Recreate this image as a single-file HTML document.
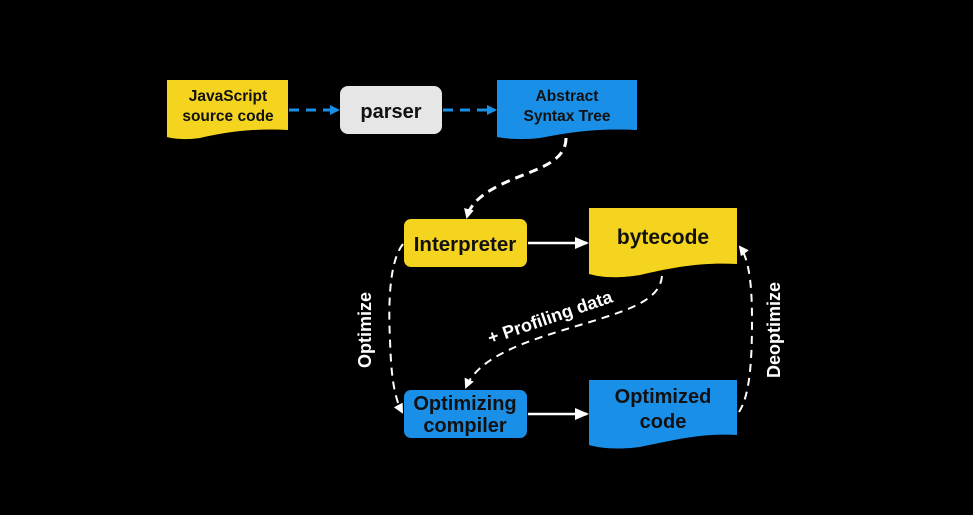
<!DOCTYPE html>
<html><head><style>
html,body{margin:0;padding:0;background:#000;}
svg{display:block;}
text{font-family:"Liberation Sans",sans-serif;font-weight:bold;}
</style></head><body>
<svg width="973" height="515" viewBox="0 0 973 515" xmlns="http://www.w3.org/2000/svg">
<defs>
<marker id="bl" markerWidth="10" markerHeight="10" refX="8" refY="5" orient="auto" markerUnits="userSpaceOnUse"><path d="M0,0 L10,5 L0,10 z" fill="#1a8fe8"/></marker>
<marker id="wh" markerWidth="14" markerHeight="12" refX="12" refY="6" orient="auto" markerUnits="userSpaceOnUse"><path d="M0,0 L14,6 L0,12 z" fill="#fff"/></marker>
<marker id="wh2" markerWidth="10" markerHeight="10" refX="8" refY="5" orient="auto" markerUnits="userSpaceOnUse"><path d="M0,0 L10,5 L0,10 z" fill="#fff"/></marker>
</defs>
<path d="M167,80 H288 V130 C255,128 225,132 200,138 C185,140 175,139 167,137 Z" fill="#f4d41f"/>
<text x="228" y="101" font-size="15.5" text-anchor="middle" fill="#111">JavaScript</text>
<text x="228" y="121" font-size="15.5" text-anchor="middle" fill="#111">source code</text>
<rect x="340" y="86" width="102" height="48" rx="8" fill="#e6e6e6"/>
<text x="391" y="118" font-size="20" text-anchor="middle" fill="#111">parser</text>
<path d="M497,80 H637 V130 C600,128 570,132 540,138 C522,140 508,139 497,137 Z" fill="#1a8fe8"/>
<text x="567" y="101" font-size="15.5" text-anchor="middle" fill="#111">Abstract</text>
<text x="567" y="121" font-size="15.5" text-anchor="middle" fill="#111">Syntax Tree</text>
<line x1="289" y1="110" x2="338" y2="110" stroke="#1a8fe8" stroke-width="3" stroke-dasharray="10,7" marker-end="url(#bl)"/>
<line x1="443" y1="110" x2="495" y2="110" stroke="#1a8fe8" stroke-width="3" stroke-dasharray="10,7" marker-end="url(#bl)"/>
<path d="M566,138 C566,165 530,170 500,185 C480,195 470,205 467,217" fill="none" stroke="#fff" stroke-width="3" stroke-dasharray="9,6" marker-end="url(#wh2)"/>
<rect x="404" y="219" width="123" height="48" rx="7" fill="#f4d41f"/>
<text x="465" y="251" font-size="20.5" text-anchor="middle" fill="#111">Interpreter</text>
<path d="M589,208 H737 V264 C700,262 670,268 640,275 C615,279 600,277 589,274 Z" fill="#f4d41f"/>
<text x="663" y="244" font-size="21" text-anchor="middle" fill="#111">bytecode</text>
<line x1="528" y1="243" x2="587" y2="243" stroke="#fff" stroke-width="2.5" marker-end="url(#wh)"/>
<rect x="404" y="390" width="123" height="48" rx="7" fill="#1a8fe8"/>
<text x="465" y="410" font-size="20" text-anchor="middle" fill="#111">Optimizing</text>
<text x="465" y="432" font-size="20" text-anchor="middle" fill="#111">compiler</text>
<path d="M589,380 H737 V435 C700,433 670,441 640,447 C615,450 600,448 589,445 Z" fill="#1a8fe8"/>
<text x="663" y="403" font-size="20" text-anchor="middle" fill="#111">Optimized</text>
<text x="663" y="428" font-size="20" text-anchor="middle" fill="#111">code</text>
<line x1="528" y1="414" x2="587" y2="414" stroke="#fff" stroke-width="2.5" marker-end="url(#wh)"/>
<path d="M403,244 C390,260 388,300 390,340 C391,370 393,395 402,412" fill="none" stroke="#fff" stroke-width="2" stroke-dasharray="8,6" marker-end="url(#wh2)"/>
<text transform="translate(371,330) rotate(-90)" font-size="18" text-anchor="middle" fill="#fff">Optimize</text>
<path d="M739,412 C750,395 752,360 752,320 C752,290 750,260 740,247" fill="none" stroke="#fff" stroke-width="2" stroke-dasharray="8,6" marker-end="url(#wh2)"/>
<text transform="translate(780,330) rotate(-90)" font-size="18" text-anchor="middle" fill="#fff">Deoptimize</text>
<path d="M662,276 C660,300 630,310 580,325 C530,340 480,355 466,387" fill="none" stroke="#fff" stroke-width="2" stroke-dasharray="8,6" marker-end="url(#wh2)"/>
<text transform="translate(552,323) rotate(-19)" font-size="18" text-anchor="middle" fill="#fff">+ Profiling data</text>
</svg>
</body></html>
